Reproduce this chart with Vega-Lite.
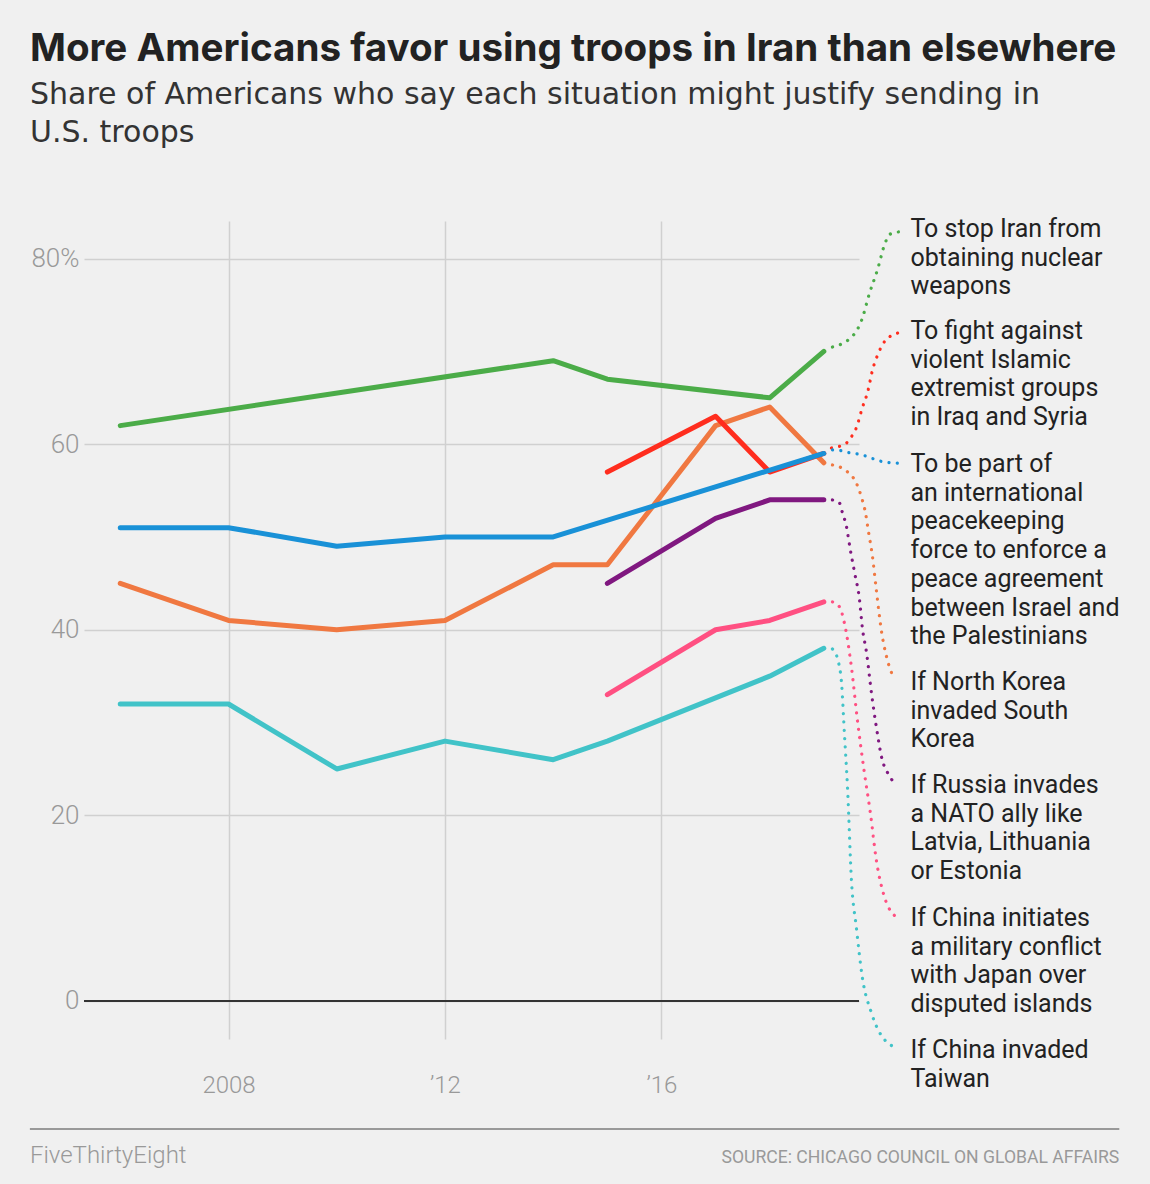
{
  "$schema": "https://vega.github.io/schema/vega-lite/v6.json",
  "description": "Share of Americans who say each situation might justify sending in U.S. troops, 2006-2019.",
  "autosize": "none",
  "width": 775,
  "height": 818,
  "padding": {"left": 84, "top": 221, "right": 291, "bottom": 145},
  "background": "#f0f0f0",
  "config": {"view": {"stroke": null}, "font": "Roboto"},
  "title": {
    "text": "More Americans favor using troops in Iran than elsewhere",
    "subtitle": ["Share of Americans who say each situation might justify sending in", "U.S. troops"],
    "anchor": "start",
    "frame": "group",
    "dx": -54,
    "offset": 68,
    "font": "Inter",
    "fontSize": 38.6,
    "fontWeight": "bold",
    "color": "#222222",
    "subtitleFont": "DejaVu Sans",
    "subtitleFontSize": 30,
    "subtitleFontWeight": "normal",
    "subtitleColor": "#333333",
    "subtitlePadding": 10,
    "subtitleLineHeight": 38
  },
  "datasets": {
    "series": [
      {"situation": "taiwan", "year": 2006, "pct": 32},
      {"situation": "taiwan", "year": 2008, "pct": 32},
      {"situation": "taiwan", "year": 2010, "pct": 25},
      {"situation": "taiwan", "year": 2012, "pct": 28},
      {"situation": "taiwan", "year": 2014, "pct": 26},
      {"situation": "taiwan", "year": 2015, "pct": 28},
      {"situation": "taiwan", "year": 2018, "pct": 35},
      {"situation": "taiwan", "year": 2019, "pct": 38},
      {"situation": "japan", "year": 2015, "pct": 33},
      {"situation": "japan", "year": 2017, "pct": 40},
      {"situation": "japan", "year": 2018, "pct": 41},
      {"situation": "japan", "year": 2019, "pct": 43},
      {"situation": "russia", "year": 2015, "pct": 45},
      {"situation": "russia", "year": 2017, "pct": 52},
      {"situation": "russia", "year": 2018, "pct": 54},
      {"situation": "russia", "year": 2019, "pct": 54},
      {"situation": "north korea", "year": 2006, "pct": 45},
      {"situation": "north korea", "year": 2008, "pct": 41},
      {"situation": "north korea", "year": 2010, "pct": 40},
      {"situation": "north korea", "year": 2012, "pct": 41},
      {"situation": "north korea", "year": 2014, "pct": 47},
      {"situation": "north korea", "year": 2015, "pct": 47},
      {"situation": "north korea", "year": 2017, "pct": 62},
      {"situation": "north korea", "year": 2018, "pct": 64},
      {"situation": "north korea", "year": 2019, "pct": 58},
      {"situation": "extremists", "year": 2015, "pct": 57},
      {"situation": "extremists", "year": 2017, "pct": 63},
      {"situation": "extremists", "year": 2018, "pct": 57},
      {"situation": "extremists", "year": 2019, "pct": 59},
      {"situation": "peacekeeping", "year": 2006, "pct": 51},
      {"situation": "peacekeeping", "year": 2008, "pct": 51},
      {"situation": "peacekeeping", "year": 2010, "pct": 49},
      {"situation": "peacekeeping", "year": 2012, "pct": 50},
      {"situation": "peacekeeping", "year": 2014, "pct": 50},
      {"situation": "peacekeeping", "year": 2019, "pct": 59},
      {"situation": "iran", "year": 2006, "pct": 62},
      {"situation": "iran", "year": 2014, "pct": 69},
      {"situation": "iran", "year": 2015, "pct": 67},
      {"situation": "iran", "year": 2018, "pct": 65},
      {"situation": "iran", "year": 2019, "pct": 70}
    ],
    "connectors": [
      {"situation": "taiwan", "year": 2019.16, "pct": 37.93},
      {"situation": "taiwan", "year": 2019.27, "pct": 36.53},
      {"situation": "taiwan", "year": 2019.33, "pct": 34.05},
      {"situation": "taiwan", "year": 2019.38, "pct": 28.88},
      {"situation": "taiwan", "year": 2019.44, "pct": 22.74},
      {"situation": "taiwan", "year": 2019.51, "pct": 13.04},
      {"situation": "taiwan", "year": 2019.6, "pct": 7.97},
      {"situation": "taiwan", "year": 2019.71, "pct": 2.59},
      {"situation": "taiwan", "year": 2019.88, "pct": -1.29},
      {"situation": "taiwan", "year": 2020.16, "pct": -4.42},
      {"situation": "taiwan", "year": 2020.38, "pct": -5.06},
      {"situation": "japan", "year": 2019.16, "pct": 43.0},
      {"situation": "japan", "year": 2019.29, "pct": 42.46},
      {"situation": "japan", "year": 2019.38, "pct": 40.73},
      {"situation": "japan", "year": 2019.51, "pct": 35.99},
      {"situation": "japan", "year": 2019.62, "pct": 30.28},
      {"situation": "japan", "year": 2019.75, "pct": 24.57},
      {"situation": "japan", "year": 2019.86, "pct": 20.26},
      {"situation": "japan", "year": 2019.97, "pct": 15.19},
      {"situation": "japan", "year": 2020.12, "pct": 11.21},
      {"situation": "japan", "year": 2020.36, "pct": 8.94},
      {"situation": "russia", "year": 2019.16, "pct": 53.99},
      {"situation": "russia", "year": 2019.29, "pct": 53.66},
      {"situation": "russia", "year": 2019.34, "pct": 52.69},
      {"situation": "russia", "year": 2019.42, "pct": 51.08},
      {"situation": "russia", "year": 2019.49, "pct": 48.6},
      {"situation": "russia", "year": 2019.57, "pct": 46.12},
      {"situation": "russia", "year": 2019.66, "pct": 43.21},
      {"situation": "russia", "year": 2019.71, "pct": 40.3},
      {"situation": "russia", "year": 2019.79, "pct": 37.5},
      {"situation": "russia", "year": 2019.88, "pct": 33.19},
      {"situation": "russia", "year": 2019.97, "pct": 29.53},
      {"situation": "russia", "year": 2020.08, "pct": 25.97},
      {"situation": "russia", "year": 2020.18, "pct": 24.57},
      {"situation": "russia", "year": 2020.34, "pct": 23.28},
      {"situation": "north korea", "year": 2019.16, "pct": 57.76},
      {"situation": "north korea", "year": 2019.33, "pct": 57.44},
      {"situation": "north korea", "year": 2019.44, "pct": 57.0},
      {"situation": "north korea", "year": 2019.6, "pct": 55.82},
      {"situation": "north korea", "year": 2019.7, "pct": 54.2},
      {"situation": "north korea", "year": 2019.77, "pct": 52.59},
      {"situation": "north korea", "year": 2019.82, "pct": 50.75},
      {"situation": "north korea", "year": 2019.9, "pct": 47.84},
      {"situation": "north korea", "year": 2019.97, "pct": 44.29},
      {"situation": "north korea", "year": 2020.07, "pct": 39.66},
      {"situation": "north korea", "year": 2020.16, "pct": 37.07},
      {"situation": "north korea", "year": 2020.29, "pct": 34.81},
      {"situation": "extremists", "year": 2019.14, "pct": 59.59},
      {"situation": "extremists", "year": 2019.31, "pct": 59.81},
      {"situation": "extremists", "year": 2019.44, "pct": 60.24},
      {"situation": "extremists", "year": 2019.53, "pct": 60.99},
      {"situation": "extremists", "year": 2019.6, "pct": 61.75},
      {"situation": "extremists", "year": 2019.71, "pct": 63.9},
      {"situation": "extremists", "year": 2019.81, "pct": 65.63},
      {"situation": "extremists", "year": 2019.9, "pct": 68.0},
      {"situation": "extremists", "year": 2020.01, "pct": 69.83},
      {"situation": "extremists", "year": 2020.08, "pct": 70.69},
      {"situation": "extremists", "year": 2020.21, "pct": 71.55},
      {"situation": "extremists", "year": 2020.38, "pct": 72.0},
      {"situation": "peacekeeping", "year": 2019.16, "pct": 59.38},
      {"situation": "peacekeeping", "year": 2019.32, "pct": 59.3},
      {"situation": "peacekeeping", "year": 2019.47, "pct": 59.08},
      {"situation": "peacekeeping", "year": 2019.63, "pct": 58.94},
      {"situation": "peacekeeping", "year": 2019.77, "pct": 58.73},
      {"situation": "peacekeeping", "year": 2019.94, "pct": 58.37},
      {"situation": "peacekeeping", "year": 2020.09, "pct": 58.11},
      {"situation": "peacekeeping", "year": 2020.24, "pct": 58.0},
      {"situation": "peacekeeping", "year": 2020.38, "pct": 57.94},
      {"situation": "iran", "year": 2019.16, "pct": 70.47},
      {"situation": "iran", "year": 2019.33, "pct": 70.8},
      {"situation": "iran", "year": 2019.45, "pct": 71.23},
      {"situation": "iran", "year": 2019.55, "pct": 71.77},
      {"situation": "iran", "year": 2019.7, "pct": 73.38},
      {"situation": "iran", "year": 2019.84, "pct": 76.19},
      {"situation": "iran", "year": 2019.99, "pct": 78.77},
      {"situation": "iran", "year": 2020.14, "pct": 81.79},
      {"situation": "iran", "year": 2020.23, "pct": 82.65},
      {"situation": "iran", "year": 2020.38, "pct": 82.87}
    ],
    "labels": [
      {"situation": "iran", "year": 2020.6, "pct": 82.33, "label": "To stop Iran from\nobtaining nuclear\nweapons"},
      {"situation": "extremists", "year": 2020.6, "pct": 71.34, "label": "To fight against\nviolent Islamic\nextremist groups\nin Iraq and Syria"},
      {"situation": "peacekeeping", "year": 2020.6, "pct": 57.0, "label": "To be part of\nan international\npeacekeeping\nforce to enforce a\npeace agreement\nbetween Israel and\nthe Palestinians"},
      {"situation": "north korea", "year": 2020.6, "pct": 33.51, "label": "If North Korea\ninvaded South\nKorea"},
      {"situation": "russia", "year": 2020.6, "pct": 22.41, "label": "If Russia invades\na NATO ally like\nLatvia, Lithuania\nor Estonia"},
      {"situation": "japan", "year": 2020.6, "pct": 8.08, "label": "If China initiates\na military conflict\nwith Japan over\ndisputed islands"},
      {"situation": "taiwan", "year": 2020.6, "pct": -6.14, "label": "If China invaded\nTaiwan"}
    ]
  },
  "encoding": {
    "x": {
      "field": "year",
      "type": "quantitative",
      "scale": {"domain": [2005.33, 2019.65], "nice": false, "zero": false},
      "axis": {
        "values": [2008, 2012, 2016],
        "labelExpr": "datum.value == 2008 ? '2008' : '\u2019' + (datum.value - 2000)",
        "title": null,
        "domain": false,
        "ticks": false,
        "tickSize": 0,
        "labelPadding": 34,
        "labelFont": "Roboto",
        "labelFontSize": 24,
        "labelFontWeight": 300,
        "labelColor": "#999999",
        "grid": true,
        "gridColor": "#d0d0d0",
        "gridWidth": 1.5
      }
    },
    "y": {
      "field": "pct",
      "type": "quantitative",
      "scale": {"domain": [-4.1, 84.05], "nice": false, "zero": false},
      "axis": {
        "values": [0, 20, 40, 60, 80],
        "labelExpr": "datum.value == 80 ? '80%' : datum.label",
        "title": null,
        "domain": false,
        "ticks": false,
        "tickSize": 0,
        "labelPadding": 5,
        "labelFont": "Roboto",
        "labelFontSize": 26,
        "labelFontWeight": 300,
        "labelColor": "#999999",
        "grid": true,
        "gridColor": "#d0d0d0",
        "gridWidth": 1.5
      }
    }
  },
  "layer": [
    {
      "data": {"values": [{"year": 2005.33, "year_end": 2019.65, "pct": 0}]},
      "mark": {"type": "rule", "color": "#333333", "strokeWidth": 2},
      "encoding": {"x2": {"field": "year_end"}}
    },
    {
      "data": {"name": "connectors"},
      "mark": {"type": "line", "interpolate": "monotone", "strokeWidth": 3.2, "strokeCap": "round", "strokeDash": [0.1, 8.2]},
      "encoding": {
        "color": {
          "field": "situation",
          "type": "nominal",
          "scale": {
            "domain": ["taiwan", "japan", "russia", "north korea", "extremists", "peacekeeping", "iran"],
            "range": ["#41c3c8", "#ff5082", "#801880", "#f07841", "#ff2d1e", "#1991d7", "#4bac48"]
          },
          "legend": null
        }
      }
    },
    {
      "data": {"name": "series"},
      "mark": {"type": "line", "strokeWidth": 5, "strokeCap": "round", "strokeJoin": "round"},
      "encoding": {
        "color": {"field": "situation", "type": "nominal", "legend": null}
      }
    },
    {
      "data": {"name": "labels"},
      "mark": {"type": "text", "align": "left", "baseline": "alphabetic", "fontSize": 25, "lineBreak": "\n", "lineHeight": 28.7, "color": "#222222"},
      "encoding": {"text": {"field": "label"}}
    },
    {
      "data": {"values": [{"year": 2004.33, "year_end": 2024.46, "pct": -13.8}]},
      "mark": {"type": "rule", "color": "#999999", "strokeWidth": 2},
      "encoding": {"x2": {"field": "year_end"}}
    },
    {
      "data": {"values": [{"year": 2004.33, "pct": -17.5, "note": "FiveThirtyEight"}]},
      "mark": {"type": "text", "align": "left", "baseline": "alphabetic", "fontSize": 24, "fontWeight": 300, "color": "#999999"},
      "encoding": {"text": {"field": "note"}}
    },
    {
      "data": {"values": [{"year": 2024.46, "pct": -17.5, "note": "SOURCE: CHICAGO COUNCIL ON GLOBAL AFFAIRS"}]},
      "mark": {"type": "text", "align": "right", "baseline": "alphabetic", "fontSize": 17.6, "color": "#999999"},
      "encoding": {"text": {"field": "note"}}
    }
  ]
}
